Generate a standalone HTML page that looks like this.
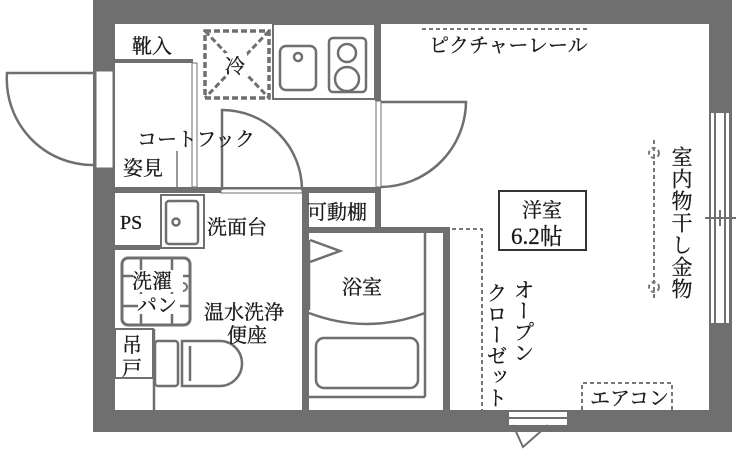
<!DOCTYPE html>
<html><head><meta charset="utf-8"><style>
html,body{margin:0;padding:0;background:#fff;}
svg{display:block}
text{font-family:"Liberation Serif","Noto Serif CJK SC","Noto Sans CJK JP",serif;fill:#1a1a1a;stroke:#1a1a1a;stroke-width:0.3;}
</style></head><body>
<svg width="754" height="475" viewBox="0 0 754 475" xmlns="http://www.w3.org/2000/svg">
<rect width="754" height="475" fill="#fff"/>
<g fill="#6f6f6f">
<rect x="93" y="0" width="639" height="24"/>
<rect x="93" y="0" width="22" height="432"/>
<rect x="709" y="0" width="23" height="432"/>
<rect x="93" y="410" width="639" height="22"/>
<rect x="115" y="187" width="266" height="6"/>
<rect x="375" y="24" width="6" height="77"/>
<rect x="375" y="187" width="6" height="44"/>
<rect x="302" y="190" width="7" height="220"/>
<rect x="302" y="227" width="148" height="6"/>
<rect x="443" y="227" width="7" height="183"/>
<rect x="115" y="59" width="78" height="4"/>
<rect x="115" y="245" width="45" height="5"/>
</g>
<rect x="96" y="71" width="17" height="97" fill="#fff" stroke="#6f6f6f" stroke-width="1"/>
<rect x="711" y="113" width="18" height="210" fill="#fff"/>
<line x1="715" y1="113" x2="715" y2="323" stroke="#6f6f6f" stroke-width="2"/>
<line x1="725" y1="113" x2="725" y2="323" stroke="#6f6f6f" stroke-width="2"/>
<line x1="705" y1="218" x2="736" y2="218" stroke="#6f6f6f" stroke-width="2"/>
<line x1="720" y1="210" x2="720" y2="226" stroke="#6f6f6f" stroke-width="2"/>
<rect x="509" y="412" width="58" height="13" fill="#fff"/>
<line x1="509" y1="418" x2="567" y2="418" stroke="#6f6f6f" stroke-width="2"/>
<polyline points="513,425 523,447 548,425" fill="none" stroke="#6f6f6f" stroke-width="2"/>
<rect x="376" y="101" width="5" height="86" fill="#fff" stroke="#6f6f6f" stroke-width="1"/>
<rect x="221" y="189" width="81" height="4" fill="#fff" stroke="#6f6f6f" stroke-width="1"/>
<rect x="192" y="63" width="5" height="124" fill="#fff" stroke="#6f6f6f" stroke-width="1"/>
<g fill="none" stroke="#6f6f6f" stroke-width="2.5">
<path d="M93,73 L7,73 A86,86 0 0 0 93,165"/>
<path d="M222,190 L222,110 A80,80 0 0 1 302,190"/>
<path d="M381,102 L466,102 A86,86 0 0 1 381,187"/>
<rect x="205" y="31" width="64" height="67" stroke-dasharray="6,3" stroke-width="3.5"/>
<line x1="205" y1="31" x2="269" y2="98" stroke-dasharray="6,3" stroke-width="3"/>
<line x1="269" y1="31" x2="205" y2="98" stroke-dasharray="6,3" stroke-width="3"/>
<rect x="273" y="24" width="102" height="75" stroke-width="2"/>
<rect x="280" y="46" width="36" height="44" rx="6"/>
<circle cx="298" cy="57" r="4"/>
<rect x="329" y="38" width="37" height="54" rx="4"/>
<circle cx="347" cy="53" r="9"/>
<circle cx="347" cy="79" r="12"/>
<rect x="161" y="195" width="43" height="53" stroke-width="2"/>
<rect x="166" y="201" width="32" height="43" rx="3"/>
<circle cx="176" cy="222" r="3.5"/>
<rect x="122" y="258" width="68" height="67" rx="6" stroke-width="3"/>
<line x1="141" y1="258" x2="141" y2="325"/>
<line x1="172" y1="258" x2="172" y2="325"/>
<line x1="122" y1="276" x2="190" y2="276"/>
<line x1="122" y1="306" x2="190" y2="306"/>
<rect x="115" y="329" width="38" height="49" stroke-width="2"/>
<line x1="154" y1="329" x2="154" y2="410"/>
<rect x="155" y="341" width="23" height="45" rx="3"/>
<path d="M182,341 L220,341 A22,22.5 0 0 1 220,386 L182,386 Z"/>
<path d="M190,346 L190,381"/>
<line x1="309" y1="240" x2="309" y2="310"/>
<polyline points="310,240 340,251 310,262"/>
<line x1="425" y1="233" x2="425" y2="397"/>
<line x1="309" y1="397" x2="425" y2="397"/>
<path d="M309,313 Q367,335 425,313"/>
<rect x="316" y="338" width="102" height="50" rx="8"/>
</g>
<line x1="177" y1="151" x2="177" y2="187" stroke="#555" stroke-width="1.2"/>
<g fill="none" stroke="#777" stroke-width="2" stroke-dasharray="4,3">
<line x1="422" y1="29" x2="590" y2="29"/>
<polyline points="452,229 482,229 482,410"/>
<polyline points="582,410 582,383 672,383 672,410"/>
<line x1="654" y1="140" x2="654" y2="298"/>
<circle cx="654" cy="153" r="5"/>
<circle cx="654" cy="287" r="5"/>
</g>
<rect x="499" y="191" width="87" height="59" fill="#fff" stroke="#333" stroke-width="2"/>
<!-- white backgrounds behind labels -->
<g fill="#fff">
<rect x="225" y="53" width="22" height="22"/>
<rect x="133" y="270" width="50" height="22"/>
<rect x="138" y="294" width="42" height="20"/>
</g>
<path d="M183,283 A4,4 0 1 1 183,291" fill="none" stroke="#6f6f6f" stroke-width="2"/>
<g font-size="20">
<text x="132" y="53">靴入</text>
<text x="225" y="73">冷</text>
<text x="137" y="146">コートフック</text>
<text x="123" y="175">姿見</text>
<text x="120" y="229">PS</text>
<text x="207" y="234">洗面台</text>
<text x="307" y="219">可動棚</text>
<text x="132" y="288">洗濯</text>
<text x="137" y="312">パン</text>
<text x="204" y="319">温水洗浄</text>
<text x="227" y="342">便座</text>
<text x="122" y="352">吊</text>
<text x="122" y="375">戸</text>
<text x="342" y="294">浴室</text>
<text x="429" y="52">ピクチャーレール</text>
<text x="522" y="217">洋室</text>
<text x="511" y="244" font-size="23">6.2帖</text>
<text x="590" y="405">エアコン</text>
</g>
<g font-size="21">
<text x="681" y="146" style="writing-mode:vertical-rl" letter-spacing="1">室内物干し金物</text>
<text x="523" y="279" style="writing-mode:vertical-rl">オープン</text>
<text x="496" y="282" style="writing-mode:vertical-rl">クローゼット</text>
</g>
</svg>
</body></html>
